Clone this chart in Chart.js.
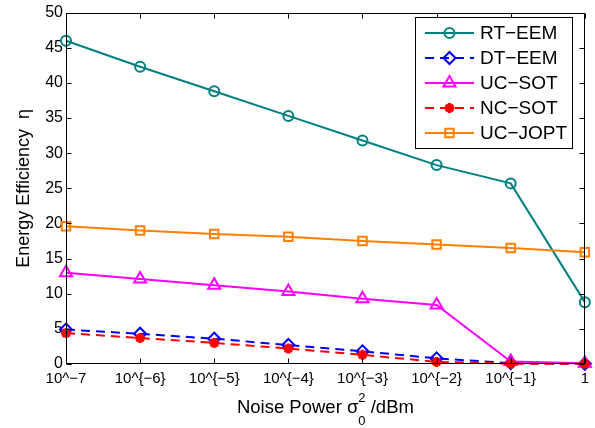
<!DOCTYPE html>
<html>
<head>
<meta charset="utf-8">
<script src="https://cdn.jsdelivr.net/npm/chart.js@4.4.1/dist/chart.umd.min.js"></script>
<style>
  html, body { margin: 0; padding: 0; background: #fff; }
  #wrap { width: 595px; height: 428px; position: relative; }
</style>
</head>
<body>
<div id="wrap"><canvas id="effChart" width="595" height="428"></canvas></div>
<script>
const noiseLabels = ['10^−7', '10^{−6}', '10^{−5}', '10^{−4}', '10^{−3}', '10^{−2}', '10^{−1}', '1'];
const yTicks = [0, 5, 10, 15, 20, 25, 30, 35, 40, 45, 50];

const rtEem = [46.0, 42.3, 38.8, 35.3, 31.8, 28.3, 25.7, 8.8];
const dtEem = [4.9, 4.3, 3.6, 2.7, 1.8, 0.8, 0.12, 0.03];
const ucSot = [13.0, 12.1, 11.2, 10.3, 9.3, 8.4, 0.35, 0.1];
const ncSot = [4.4, 3.7, 3.0, 2.2, 1.3, 0.3, 0.05, 0.05];
const ucJopt = [19.6, 19.0, 18.5, 18.1, 17.5, 17.0, 16.5, 15.9];

const FONT = '"Liberation Sans", Arial, Helvetica, sans-serif';

function series(label, data, color, style, radius, dashed, order) {
    return {
        label: label,
        data: data,
        borderColor: color,
        backgroundColor: 'rgba(0,0,0,0)',
        borderWidth: 2,
        borderDash: dashed ? [9, 6] : [],
        pointStyle: style,
        pointRadius: radius,
        pointHoverRadius: radius,
        pointBorderColor: color,
        pointBackgroundColor: style === 'star' ? color : 'rgba(0,0,0,0)',
        pointBorderWidth: style === 'star' ? 3 : 2,
        tension: 0,
        fill: false,
        clip: false,
        order: order
    };
}

const datasets = [
    series('RT−EEM', rtEem, '#008080', 'circle', 5, false, 5),
    series('DT−EEM', dtEem, '#0000ff', 'rectRot', 6, true, 4),
    series('UC−SOT', ucSot, '#ff00ff', 'triangle', 7, false, 3),
    series('NC−SOT', ncSot, '#ff0000', 'star', 5, true, 2),
    series('UC−JOPT', ucJopt, '#ff8000', 'rect', 6, false, 1)
];

// axes box with inward ticks, like the original figure
const framePlugin = {
    id: 'frame',
    afterDatasetsDraw(chart) {
        const { ctx, chartArea: a, scales } = chart;
        const L = Math.round(a.left) + 0.5, R = Math.round(a.right) - 0.5;
        const T = Math.round(a.top) + 0.5, B = Math.round(a.bottom) - 0.5;
        ctx.save();
        ctx.strokeStyle = '#000';
        ctx.lineWidth = 1;
        ctx.setLineDash([]);
        ctx.strokeRect(L, T, R - L, B - T);
        ctx.beginPath();
        noiseLabels.forEach((_, i) => {
            const x = Math.round(scales.x.getPixelForValue(i)) + 0.5;
            ctx.moveTo(x, B); ctx.lineTo(x, B - 5);
            ctx.moveTo(x, T); ctx.lineTo(x, T + 5);
        });
        yTicks.forEach(v => {
            const y = Math.round(scales.y.getPixelForValue(v)) + 0.5;
            ctx.moveTo(L, y); ctx.lineTo(L + 5, y);
            ctx.moveTo(R, y); ctx.lineTo(R - 5, y);
        });
        ctx.stroke();
        ctx.restore();
    }
};

// x title with stacked sub/superscript and the boxed legend
const extrasPlugin = {
    id: 'extras',
    afterDraw(chart) {
        const { ctx, chartArea: a } = chart;
        ctx.save();
        ctx.fillStyle = '#000';
        ctx.textBaseline = 'alphabetic';

        // x axis title
        const main = '18.5px ' + FONT, small = '13px ' + FONT;
        const p1 = 'Noise Power σ', p2 = ' /dBm';
        ctx.font = main;
        const w1 = ctx.measureText(p1).width, w2 = ctx.measureText(p2).width;
        ctx.font = small;
        const ws = Math.max(ctx.measureText('0').width, ctx.measureText('2').width);
        const total = w1 + ws + w2;
        let x = (a.left + a.right) / 2 - total / 2;
        const base = 413;
        ctx.font = main;
        ctx.textAlign = 'left';
        ctx.fillText(p1, x, base);
        x += w1;
        ctx.font = small;
        ctx.fillText('2', x, base - 11);
        ctx.fillText('0', x, base + 12);
        x += ws;
        ctx.font = main;
        ctx.fillText(p2, x, base);

        // legend
        const box = { x: 415.5, y: 17.5, w: 157, h: 131 };
        ctx.fillStyle = '#fff';
        ctx.fillRect(box.x, box.y, box.w, box.h);
        ctx.strokeStyle = '#000';
        ctx.lineWidth = 1;
        ctx.strokeRect(box.x, box.y, box.w, box.h);
        ctx.font = '19px ' + FONT;
        ctx.textBaseline = 'middle';
        datasets.forEach((ds, i) => {
            const cy = 33 + i * 25;
            ctx.strokeStyle = ds.borderColor;
            ctx.lineWidth = ds.borderWidth;
            ctx.setLineDash(ds.borderDash);
            ctx.beginPath();
            ctx.moveTo(425, cy);
            ctx.lineTo(474, cy);
            ctx.stroke();
            ctx.setLineDash([]);
            ctx.fillStyle = ds.pointBackgroundColor;
            ctx.strokeStyle = ds.pointBorderColor;
            ctx.lineWidth = ds.pointBorderWidth;
            Chart.helpers.drawPoint(ctx, {
                pointStyle: ds.pointStyle,
                radius: ds.pointRadius,
                rotation: 0,
                borderWidth: ds.pointBorderWidth
            }, 449.5, cy);
            ctx.fillStyle = '#000';
            ctx.fillText(ds.label, 480, cy + 1);
        });
        ctx.restore();
    }
};

new Chart(document.getElementById('effChart').getContext('2d'), {
    type: 'line',
    data: { labels: noiseLabels, datasets: datasets },
    plugins: [framePlugin, extrasPlugin],
    options: {
        responsive: false,
        animation: false,
        events: [],
        layout: { padding: { left: 0, right: 6, top: 12, bottom: 0 } },
        plugins: { legend: { display: false }, tooltip: { enabled: false } },
        scales: {
            x: {
                type: 'category',
                offset: false,
                grid: { display: false, drawTicks: false },
                border: { display: false },
                ticks: { color: '#000', font: { family: FONT, size: 15 }, padding: 6, maxRotation: 0, autoSkip: false },
                afterFit: s => { s.height = 64; }
            },
            y: {
                min: 0,
                max: 50,
                grid: { display: false, drawTicks: false },
                border: { display: false },
                ticks: { stepSize: 5, color: '#000', font: { family: FONT, size: 16 }, padding: 3 },
                title: { display: true, text: 'Energy Efficiency  η', color: '#000', font: { family: FONT, size: 18 }, padding: { top: 13, bottom: 0 } },
                afterFit: s => { s.width = 66; }
            }
        }
    }
});
</script>
</body>
</html>
